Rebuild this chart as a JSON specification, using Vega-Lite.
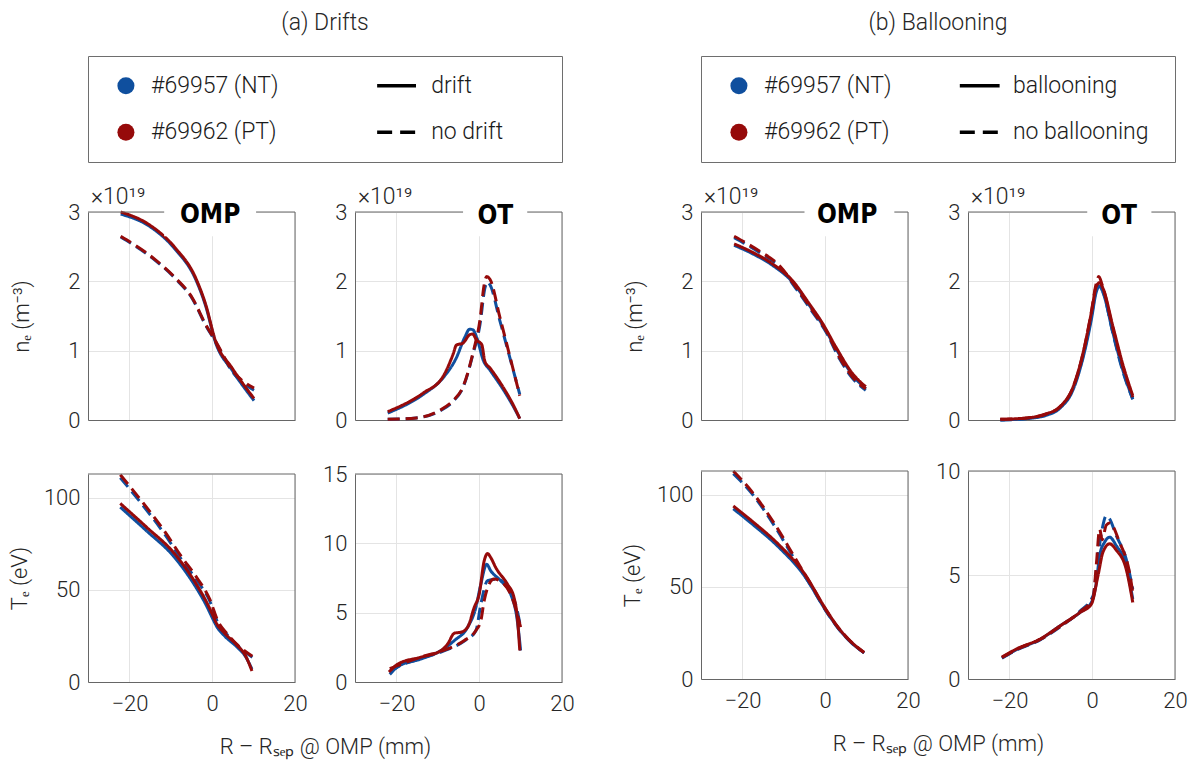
{
  "$schema": "https://vega.github.io/schema/vega-lite/v6.json",
  "background": "white",
  "padding": {"left": 8, "top": 11, "right": 5, "bottom": 5},
  "config": {
    "font": "Roboto",
    "view": {"stroke": null},
    "axis": {
      "labelFont": "Roboto", "labelFontSize": 22, "labelFontWeight": 300, "labelColor": "#262626",
      "titleFont": "Roboto", "titleFontSize": 22, "titleFontWeight": 300, "titleColor": "#262626",
      "grid": true, "gridColor": "#e4e4e4", "gridWidth": 1,
      "domainColor": "#666666", "domainWidth": 1, "ticks": false,
      "labelFlush": false, "labelPadding": 8, "labelOverlap": false, "format": "d"
    },
    "axisX": {"labelPadding": 11},
    "title": {"font": "Roboto", "fontSize": 23, "fontWeight": 300, "color": "#262626"}
  },
  "datasets": {
    "shots": [{"shot": "#69957 (NT)"}, {"shot": "#69962 (PT)"}],
    "cases_a": [{"case": "drift"}, {"case": "no drift"}],
    "cases_b": [{"case": "ballooning"}, {"case": "no ballooning"}],
    "a_ne_omp": [
      {"shot":"#69957 (NT)","case":"drift","R":-22.1,"v":2.97},{"shot":"#69957 (NT)","case":"drift","R":-15.3,"v":2.8},{"shot":"#69957 (NT)","case":"drift","R":-8.9,"v":2.46},{"shot":"#69957 (NT)","case":"drift","R":-4,"v":2.03},{"shot":"#69957 (NT)","case":"drift","R":-1.6,"v":1.65},{"shot":"#69957 (NT)","case":"drift","R":0.8,"v":1.12},{"shot":"#69957 (NT)","case":"drift","R":4.8,"v":0.72},{"shot":"#69957 (NT)","case":"drift","R":10.1,"v":0.28},
      {"shot":"#69957 (NT)","case":"no drift","R":-22.1,"v":2.64},{"shot":"#69957 (NT)","case":"no drift","R":-13.7,"v":2.3},{"shot":"#69957 (NT)","case":"no drift","R":-8.9,"v":2.04},{"shot":"#69957 (NT)","case":"no drift","R":-4.8,"v":1.75},{"shot":"#69957 (NT)","case":"no drift","R":-1.6,"v":1.37},{"shot":"#69957 (NT)","case":"no drift","R":0.8,"v":1.13},{"shot":"#69957 (NT)","case":"no drift","R":4.8,"v":0.7},{"shot":"#69957 (NT)","case":"no drift","R":10.1,"v":0.43},
      {"shot":"#69962 (PT)","case":"drift","R":-22.1,"v":3.0},{"shot":"#69962 (PT)","case":"drift","R":-15.3,"v":2.82},{"shot":"#69962 (PT)","case":"drift","R":-8.9,"v":2.48},{"shot":"#69962 (PT)","case":"drift","R":-4,"v":2.05},{"shot":"#69962 (PT)","case":"drift","R":-1.6,"v":1.67},{"shot":"#69962 (PT)","case":"drift","R":0.8,"v":1.14},{"shot":"#69962 (PT)","case":"drift","R":4.8,"v":0.75},{"shot":"#69962 (PT)","case":"drift","R":10.1,"v":0.31},
      {"shot":"#69962 (PT)","case":"no drift","R":-22.1,"v":2.65},{"shot":"#69962 (PT)","case":"no drift","R":-13.7,"v":2.31},{"shot":"#69962 (PT)","case":"no drift","R":-8.9,"v":2.05},{"shot":"#69962 (PT)","case":"no drift","R":-4.8,"v":1.76},{"shot":"#69962 (PT)","case":"no drift","R":-1.6,"v":1.38},{"shot":"#69962 (PT)","case":"no drift","R":0.8,"v":1.14},{"shot":"#69962 (PT)","case":"no drift","R":4.8,"v":0.72},{"shot":"#69962 (PT)","case":"no drift","R":10.1,"v":0.46}
    ],
    "a_ne_ot": [
      {"shot":"#69957 (NT)","case":"drift","R":-22.1,"v":0.1},{"shot":"#69957 (NT)","case":"drift","R":-13.5,"v":0.37},{"shot":"#69957 (NT)","case":"drift","R":-8.7,"v":0.61},{"shot":"#69957 (NT)","case":"drift","R":-5.5,"v":0.9},{"shot":"#69957 (NT)","case":"drift","R":-3.5,"v":1.19},{"shot":"#69957 (NT)","case":"drift","R":-2.3,"v":1.31},{"shot":"#69957 (NT)","case":"drift","R":-1.5,"v":1.3},{"shot":"#69957 (NT)","case":"drift","R":-0.6,"v":1.19},{"shot":"#69957 (NT)","case":"drift","R":1,"v":0.86},{"shot":"#69957 (NT)","case":"drift","R":2.6,"v":0.72},{"shot":"#69957 (NT)","case":"drift","R":5.8,"v":0.44},{"shot":"#69957 (NT)","case":"drift","R":8.2,"v":0.2},{"shot":"#69957 (NT)","case":"drift","R":9.8,"v":0.02},
      {"shot":"#69957 (NT)","case":"no drift","R":-22.1,"v":0.01},{"shot":"#69957 (NT)","case":"no drift","R":-15.2,"v":0.03},{"shot":"#69957 (NT)","case":"no drift","R":-9.5,"v":0.13},{"shot":"#69957 (NT)","case":"no drift","R":-6.3,"v":0.27},{"shot":"#69957 (NT)","case":"no drift","R":-3.9,"v":0.47},{"shot":"#69957 (NT)","case":"no drift","R":-1.5,"v":0.95},{"shot":"#69957 (NT)","case":"no drift","R":0.2,"v":1.38},{"shot":"#69957 (NT)","case":"no drift","R":1.4,"v":1.91},{"shot":"#69957 (NT)","case":"no drift","R":2,"v":1.99},{"shot":"#69957 (NT)","case":"no drift","R":2.6,"v":1.95},{"shot":"#69957 (NT)","case":"no drift","R":5,"v":1.43},{"shot":"#69957 (NT)","case":"no drift","R":7.4,"v":0.9},{"shot":"#69957 (NT)","case":"no drift","R":9.8,"v":0.37},
      {"shot":"#69962 (PT)","case":"drift","R":-22.1,"v":0.12},{"shot":"#69962 (PT)","case":"drift","R":-13.5,"v":0.39},{"shot":"#69962 (PT)","case":"drift","R":-8.7,"v":0.63},{"shot":"#69962 (PT)","case":"drift","R":-6.3,"v":0.95},{"shot":"#69962 (PT)","case":"drift","R":-5.5,"v":1.08},{"shot":"#69962 (PT)","case":"drift","R":-3.9,"v":1.11},{"shot":"#69962 (PT)","case":"drift","R":-2.3,"v":1.23},{"shot":"#69962 (PT)","case":"drift","R":-1.6,"v":1.24},{"shot":"#69962 (PT)","case":"drift","R":-0.6,"v":1.15},{"shot":"#69962 (PT)","case":"drift","R":0.6,"v":1.09},{"shot":"#69962 (PT)","case":"drift","R":1.4,"v":0.84},{"shot":"#69962 (PT)","case":"drift","R":2.6,"v":0.75},{"shot":"#69962 (PT)","case":"drift","R":5.8,"v":0.47},{"shot":"#69962 (PT)","case":"drift","R":8.2,"v":0.22},{"shot":"#69962 (PT)","case":"drift","R":9.8,"v":0.02},
      {"shot":"#69962 (PT)","case":"no drift","R":-22.1,"v":0.01},{"shot":"#69962 (PT)","case":"no drift","R":-15.2,"v":0.03},{"shot":"#69962 (PT)","case":"no drift","R":-9.5,"v":0.14},{"shot":"#69962 (PT)","case":"no drift","R":-6.3,"v":0.28},{"shot":"#69962 (PT)","case":"no drift","R":-3.9,"v":0.48},{"shot":"#69962 (PT)","case":"no drift","R":-1.5,"v":0.97},{"shot":"#69962 (PT)","case":"no drift","R":0.2,"v":1.45},{"shot":"#69962 (PT)","case":"no drift","R":1.2,"v":1.95},{"shot":"#69962 (PT)","case":"no drift","R":1.8,"v":2.07},{"shot":"#69962 (PT)","case":"no drift","R":2.6,"v":2.03},{"shot":"#69962 (PT)","case":"no drift","R":5,"v":1.48},{"shot":"#69962 (PT)","case":"no drift","R":7.4,"v":0.92},{"shot":"#69962 (PT)","case":"no drift","R":9.8,"v":0.35}
    ],
    "a_te_omp": [
      {"shot":"#69957 (NT)","case":"drift","R":-22.2,"v":95},{"shot":"#69957 (NT)","case":"drift","R":-15.8,"v":82},{"shot":"#69957 (NT)","case":"drift","R":-9.4,"v":68.5},{"shot":"#69957 (NT)","case":"drift","R":-3.8,"v":51},{"shot":"#69957 (NT)","case":"drift","R":-1.5,"v":42},{"shot":"#69957 (NT)","case":"drift","R":0,"v":35},{"shot":"#69957 (NT)","case":"drift","R":1,"v":30.5},{"shot":"#69957 (NT)","case":"drift","R":3,"v":25},{"shot":"#69957 (NT)","case":"drift","R":6,"v":19},{"shot":"#69957 (NT)","case":"drift","R":8,"v":14},{"shot":"#69957 (NT)","case":"drift","R":9.6,"v":7},
      {"shot":"#69957 (NT)","case":"no drift","R":-22.2,"v":111},{"shot":"#69957 (NT)","case":"no drift","R":-18,"v":99.5},{"shot":"#69957 (NT)","case":"no drift","R":-11.4,"v":80},{"shot":"#69957 (NT)","case":"no drift","R":-7.4,"v":66.5},{"shot":"#69957 (NT)","case":"no drift","R":-3.8,"v":55.5},{"shot":"#69957 (NT)","case":"no drift","R":-0.6,"v":44},{"shot":"#69957 (NT)","case":"no drift","R":1.4,"v":32},{"shot":"#69957 (NT)","case":"no drift","R":3.5,"v":26},{"shot":"#69957 (NT)","case":"no drift","R":5.7,"v":20.5},{"shot":"#69957 (NT)","case":"no drift","R":9.7,"v":13.5},
      {"shot":"#69962 (PT)","case":"drift","R":-22.2,"v":97},{"shot":"#69962 (PT)","case":"drift","R":-15.8,"v":84},{"shot":"#69962 (PT)","case":"drift","R":-9.4,"v":70.5},{"shot":"#69962 (PT)","case":"drift","R":-3.8,"v":53},{"shot":"#69962 (PT)","case":"drift","R":-1.5,"v":44},{"shot":"#69962 (PT)","case":"drift","R":0,"v":37},{"shot":"#69962 (PT)","case":"drift","R":1,"v":32},{"shot":"#69962 (PT)","case":"drift","R":3,"v":26.5},{"shot":"#69962 (PT)","case":"drift","R":6,"v":20},{"shot":"#69962 (PT)","case":"drift","R":8,"v":14.5},{"shot":"#69962 (PT)","case":"drift","R":9.6,"v":6},
      {"shot":"#69962 (PT)","case":"no drift","R":-22.2,"v":112.6},{"shot":"#69962 (PT)","case":"no drift","R":-18,"v":101},{"shot":"#69962 (PT)","case":"no drift","R":-11.4,"v":81.5},{"shot":"#69962 (PT)","case":"no drift","R":-7.4,"v":68},{"shot":"#69962 (PT)","case":"no drift","R":-3.8,"v":57},{"shot":"#69962 (PT)","case":"no drift","R":-0.6,"v":45},{"shot":"#69962 (PT)","case":"no drift","R":1.4,"v":33},{"shot":"#69962 (PT)","case":"no drift","R":3.5,"v":26.5},{"shot":"#69962 (PT)","case":"no drift","R":5.7,"v":21},{"shot":"#69962 (PT)","case":"no drift","R":9.7,"v":14}
    ],
    "a_te_ot": [
      {"shot":"#69957 (NT)","case":"drift","R":-21.6,"v":0.55},{"shot":"#69957 (NT)","case":"drift","R":-19.6,"v":1.12},{"shot":"#69957 (NT)","case":"drift","R":-14,"v":1.67},{"shot":"#69957 (NT)","case":"drift","R":-9.2,"v":2.27},{"shot":"#69957 (NT)","case":"drift","R":-6,"v":2.99},{"shot":"#69957 (NT)","case":"drift","R":-2.8,"v":3.95},{"shot":"#69957 (NT)","case":"drift","R":-0.8,"v":5.38},{"shot":"#69957 (NT)","case":"drift","R":0.4,"v":7.06},{"shot":"#69957 (NT)","case":"drift","R":1.8,"v":8.49},{"shot":"#69957 (NT)","case":"drift","R":2.8,"v":8.01},{"shot":"#69957 (NT)","case":"drift","R":5.2,"v":7.3},{"shot":"#69957 (NT)","case":"drift","R":7.6,"v":6.34},{"shot":"#69957 (NT)","case":"drift","R":9.2,"v":4.43},{"shot":"#69957 (NT)","case":"drift","R":10,"v":2.27},
      {"shot":"#69957 (NT)","case":"no drift","R":-21.6,"v":0.72},{"shot":"#69957 (NT)","case":"no drift","R":-19.6,"v":1.1},{"shot":"#69957 (NT)","case":"no drift","R":-14,"v":1.7},{"shot":"#69957 (NT)","case":"no drift","R":-7.6,"v":2.35},{"shot":"#69957 (NT)","case":"no drift","R":-3.6,"v":2.95},{"shot":"#69957 (NT)","case":"no drift","R":-0.8,"v":3.7},{"shot":"#69957 (NT)","case":"no drift","R":0.4,"v":5.62},{"shot":"#69957 (NT)","case":"no drift","R":2,"v":7.3},{"shot":"#69957 (NT)","case":"no drift","R":4.4,"v":7.42},{"shot":"#69957 (NT)","case":"no drift","R":6.8,"v":6.82},{"shot":"#69957 (NT)","case":"no drift","R":9.2,"v":5.14},{"shot":"#69957 (NT)","case":"no drift","R":10,"v":3.95},
      {"shot":"#69962 (PT)","case":"drift","R":-21.8,"v":0.72},{"shot":"#69962 (PT)","case":"drift","R":-19.6,"v":1.3},{"shot":"#69962 (PT)","case":"drift","R":-14,"v":1.8},{"shot":"#69962 (PT)","case":"drift","R":-9.2,"v":2.27},{"shot":"#69962 (PT)","case":"drift","R":-7.6,"v":2.75},{"shot":"#69962 (PT)","case":"drift","R":-6,"v":3.52},{"shot":"#69962 (PT)","case":"drift","R":-4.4,"v":3.59},{"shot":"#69962 (PT)","case":"drift","R":-2.8,"v":3.95},{"shot":"#69962 (PT)","case":"drift","R":-1.2,"v":5.38},{"shot":"#69962 (PT)","case":"drift","R":0,"v":6.34},{"shot":"#69962 (PT)","case":"drift","R":1.2,"v":8.73},{"shot":"#69962 (PT)","case":"drift","R":2,"v":9.26},{"shot":"#69962 (PT)","case":"drift","R":2.8,"v":8.97},{"shot":"#69962 (PT)","case":"drift","R":4,"v":8.25},{"shot":"#69962 (PT)","case":"drift","R":6.8,"v":7.06},{"shot":"#69962 (PT)","case":"drift","R":8.4,"v":6.1},{"shot":"#69962 (PT)","case":"drift","R":9.2,"v":4.67},{"shot":"#69962 (PT)","case":"drift","R":9.8,"v":2.27},
      {"shot":"#69962 (PT)","case":"no drift","R":-21.6,"v":0.96},{"shot":"#69962 (PT)","case":"no drift","R":-19.6,"v":1.2},{"shot":"#69962 (PT)","case":"no drift","R":-14,"v":1.8},{"shot":"#69962 (PT)","case":"no drift","R":-7.6,"v":2.39},{"shot":"#69962 (PT)","case":"no drift","R":-3.6,"v":2.99},{"shot":"#69962 (PT)","case":"no drift","R":-0.8,"v":3.71},{"shot":"#69962 (PT)","case":"no drift","R":0.4,"v":4.43},{"shot":"#69962 (PT)","case":"no drift","R":1.2,"v":5.86},{"shot":"#69962 (PT)","case":"no drift","R":2.4,"v":7.06},{"shot":"#69962 (PT)","case":"no drift","R":3.6,"v":7.42},{"shot":"#69962 (PT)","case":"no drift","R":6,"v":7.06},{"shot":"#69962 (PT)","case":"no drift","R":7.6,"v":6.34},{"shot":"#69962 (PT)","case":"no drift","R":9.2,"v":4.9},{"shot":"#69962 (PT)","case":"no drift","R":10,"v":3.95}
    ],
    "b_ne_omp": [
      {"shot":"#69957 (NT)","case":"ballooning","R":-22,"v":2.52},{"shot":"#69957 (NT)","case":"ballooning","R":-17.6,"v":2.4},{"shot":"#69957 (NT)","case":"ballooning","R":-12.7,"v":2.23},{"shot":"#69957 (NT)","case":"ballooning","R":-7.9,"v":1.99},{"shot":"#69957 (NT)","case":"ballooning","R":-3.9,"v":1.66},{"shot":"#69957 (NT)","case":"ballooning","R":-0.6,"v":1.37},{"shot":"#69957 (NT)","case":"ballooning","R":2.6,"v":1.03},{"shot":"#69957 (NT)","case":"ballooning","R":6.6,"v":0.65},{"shot":"#69957 (NT)","case":"ballooning","R":9.8,"v":0.45},
      {"shot":"#69957 (NT)","case":"no ballooning","R":-22,"v":2.63},{"shot":"#69957 (NT)","case":"no ballooning","R":-16,"v":2.42},{"shot":"#69957 (NT)","case":"no ballooning","R":-11.1,"v":2.21},{"shot":"#69957 (NT)","case":"no ballooning","R":-7.1,"v":1.9},{"shot":"#69957 (NT)","case":"no ballooning","R":-3.1,"v":1.56},{"shot":"#69957 (NT)","case":"no ballooning","R":0.2,"v":1.27},{"shot":"#69957 (NT)","case":"no ballooning","R":3.4,"v":0.89},{"shot":"#69957 (NT)","case":"no ballooning","R":6.6,"v":0.6},{"shot":"#69957 (NT)","case":"no ballooning","R":9.8,"v":0.43},
      {"shot":"#69962 (PT)","case":"ballooning","R":-22,"v":2.54},{"shot":"#69962 (PT)","case":"ballooning","R":-17.6,"v":2.42},{"shot":"#69962 (PT)","case":"ballooning","R":-12.7,"v":2.25},{"shot":"#69962 (PT)","case":"ballooning","R":-7.9,"v":2.01},{"shot":"#69962 (PT)","case":"ballooning","R":-3.9,"v":1.68},{"shot":"#69962 (PT)","case":"ballooning","R":-0.6,"v":1.39},{"shot":"#69962 (PT)","case":"ballooning","R":2.6,"v":1.05},{"shot":"#69962 (PT)","case":"ballooning","R":6.6,"v":0.67},{"shot":"#69962 (PT)","case":"ballooning","R":9.8,"v":0.48},
      {"shot":"#69962 (PT)","case":"no ballooning","R":-22,"v":2.65},{"shot":"#69962 (PT)","case":"no ballooning","R":-16,"v":2.44},{"shot":"#69962 (PT)","case":"no ballooning","R":-11.1,"v":2.23},{"shot":"#69962 (PT)","case":"no ballooning","R":-7.1,"v":1.92},{"shot":"#69962 (PT)","case":"no ballooning","R":-3.1,"v":1.58},{"shot":"#69962 (PT)","case":"no ballooning","R":0.2,"v":1.29},{"shot":"#69962 (PT)","case":"no ballooning","R":3.4,"v":0.91},{"shot":"#69962 (PT)","case":"no ballooning","R":6.6,"v":0.62},{"shot":"#69962 (PT)","case":"no ballooning","R":9.8,"v":0.45}
    ],
    "b_ne_ot": [
      {"shot":"#69957 (NT)","case":"ballooning","R":-22.2,"v":0.0},{"shot":"#69957 (NT)","case":"ballooning","R":-15.8,"v":0.02},{"shot":"#69957 (NT)","case":"ballooning","R":-11,"v":0.07},{"shot":"#69957 (NT)","case":"ballooning","R":-7.8,"v":0.17},{"shot":"#69957 (NT)","case":"ballooning","R":-4.6,"v":0.44},{"shot":"#69957 (NT)","case":"ballooning","R":-2.2,"v":0.9},{"shot":"#69957 (NT)","case":"ballooning","R":-0.2,"v":1.45},{"shot":"#69957 (NT)","case":"ballooning","R":1,"v":1.85},{"shot":"#69957 (NT)","case":"ballooning","R":1.8,"v":1.93},{"shot":"#69957 (NT)","case":"ballooning","R":2.6,"v":1.84},{"shot":"#69957 (NT)","case":"ballooning","R":5,"v":1.26},{"shot":"#69957 (NT)","case":"ballooning","R":7.4,"v":0.72},{"shot":"#69957 (NT)","case":"ballooning","R":9.8,"v":0.3},
      {"shot":"#69957 (NT)","case":"no ballooning","R":-22.2,"v":0.0},{"shot":"#69957 (NT)","case":"no ballooning","R":-15.8,"v":0.02},{"shot":"#69957 (NT)","case":"no ballooning","R":-11,"v":0.08},{"shot":"#69957 (NT)","case":"no ballooning","R":-7.8,"v":0.18},{"shot":"#69957 (NT)","case":"no ballooning","R":-4.6,"v":0.46},{"shot":"#69957 (NT)","case":"no ballooning","R":-2.2,"v":0.93},{"shot":"#69957 (NT)","case":"no ballooning","R":-0.2,"v":1.5},{"shot":"#69957 (NT)","case":"no ballooning","R":1,"v":1.88},{"shot":"#69957 (NT)","case":"no ballooning","R":1.8,"v":1.97},{"shot":"#69957 (NT)","case":"no ballooning","R":2.6,"v":1.86},{"shot":"#69957 (NT)","case":"no ballooning","R":5,"v":1.25},{"shot":"#69957 (NT)","case":"no ballooning","R":7.4,"v":0.7},{"shot":"#69957 (NT)","case":"no ballooning","R":9.8,"v":0.3},
      {"shot":"#69962 (PT)","case":"ballooning","R":-22.2,"v":0.01},{"shot":"#69962 (PT)","case":"ballooning","R":-15.8,"v":0.03},{"shot":"#69962 (PT)","case":"ballooning","R":-11,"v":0.09},{"shot":"#69962 (PT)","case":"ballooning","R":-7.8,"v":0.19},{"shot":"#69962 (PT)","case":"ballooning","R":-4.6,"v":0.48},{"shot":"#69962 (PT)","case":"ballooning","R":-2.2,"v":0.97},{"shot":"#69962 (PT)","case":"ballooning","R":-0.2,"v":1.55},{"shot":"#69962 (PT)","case":"ballooning","R":1,"v":1.93},{"shot":"#69962 (PT)","case":"ballooning","R":1.8,"v":1.98},{"shot":"#69962 (PT)","case":"ballooning","R":2.6,"v":1.9},{"shot":"#69962 (PT)","case":"ballooning","R":5,"v":1.35},{"shot":"#69962 (PT)","case":"ballooning","R":7.4,"v":0.8},{"shot":"#69962 (PT)","case":"ballooning","R":9.8,"v":0.35},
      {"shot":"#69962 (PT)","case":"no ballooning","R":-22.2,"v":0.01},{"shot":"#69962 (PT)","case":"no ballooning","R":-15.8,"v":0.03},{"shot":"#69962 (PT)","case":"no ballooning","R":-11,"v":0.09},{"shot":"#69962 (PT)","case":"no ballooning","R":-7.8,"v":0.19},{"shot":"#69962 (PT)","case":"no ballooning","R":-4.6,"v":0.47},{"shot":"#69962 (PT)","case":"no ballooning","R":-2.2,"v":0.96},{"shot":"#69962 (PT)","case":"no ballooning","R":-0.2,"v":1.56},{"shot":"#69962 (PT)","case":"no ballooning","R":0.9,"v":1.95},{"shot":"#69962 (PT)","case":"no ballooning","R":1.6,"v":2.07},{"shot":"#69962 (PT)","case":"no ballooning","R":2.4,"v":1.95},{"shot":"#69962 (PT)","case":"no ballooning","R":5,"v":1.32},{"shot":"#69962 (PT)","case":"no ballooning","R":7.4,"v":0.77},{"shot":"#69962 (PT)","case":"no ballooning","R":9.8,"v":0.33}
    ],
    "b_te_omp": [
      {"shot":"#69957 (NT)","case":"ballooning","R":-22.2,"v":92.5},{"shot":"#69957 (NT)","case":"ballooning","R":-17.8,"v":84.5},{"shot":"#69957 (NT)","case":"ballooning","R":-11.4,"v":72},{"shot":"#69957 (NT)","case":"ballooning","R":-5,"v":56},{"shot":"#69957 (NT)","case":"ballooning","R":-0.2,"v":38.5},{"shot":"#69957 (NT)","case":"ballooning","R":3,"v":28},{"shot":"#69957 (NT)","case":"ballooning","R":6.2,"v":20},{"shot":"#69957 (NT)","case":"ballooning","R":9.4,"v":14.2},
      {"shot":"#69957 (NT)","case":"no ballooning","R":-22.2,"v":111.5},{"shot":"#69957 (NT)","case":"no ballooning","R":-17.8,"v":101},{"shot":"#69957 (NT)","case":"no ballooning","R":-12.2,"v":83},{"shot":"#69957 (NT)","case":"no ballooning","R":-7.4,"v":65},{"shot":"#69957 (NT)","case":"no ballooning","R":-2.6,"v":47.5},{"shot":"#69957 (NT)","case":"no ballooning","R":0.6,"v":35.5},{"shot":"#69957 (NT)","case":"no ballooning","R":3,"v":28},{"shot":"#69957 (NT)","case":"no ballooning","R":6.2,"v":20},{"shot":"#69957 (NT)","case":"no ballooning","R":9.4,"v":14.2},
      {"shot":"#69962 (PT)","case":"ballooning","R":-22.2,"v":94},{"shot":"#69962 (PT)","case":"ballooning","R":-17.8,"v":86},{"shot":"#69962 (PT)","case":"ballooning","R":-11.4,"v":73.4},{"shot":"#69962 (PT)","case":"ballooning","R":-5,"v":57.2},{"shot":"#69962 (PT)","case":"ballooning","R":-0.2,"v":39.2},{"shot":"#69962 (PT)","case":"ballooning","R":3,"v":28.4},{"shot":"#69962 (PT)","case":"ballooning","R":6.2,"v":20.3},{"shot":"#69962 (PT)","case":"ballooning","R":9.4,"v":14.4},
      {"shot":"#69962 (PT)","case":"no ballooning","R":-22.2,"v":113},{"shot":"#69962 (PT)","case":"no ballooning","R":-17.8,"v":102},{"shot":"#69962 (PT)","case":"no ballooning","R":-12.2,"v":84.2},{"shot":"#69962 (PT)","case":"no ballooning","R":-7.4,"v":66.2},{"shot":"#69962 (PT)","case":"no ballooning","R":-2.6,"v":48.2},{"shot":"#69962 (PT)","case":"no ballooning","R":0.6,"v":36},{"shot":"#69962 (PT)","case":"no ballooning","R":3,"v":28.4},{"shot":"#69962 (PT)","case":"no ballooning","R":6.2,"v":20.3},{"shot":"#69962 (PT)","case":"no ballooning","R":9.4,"v":14.4}
    ],
    "b_te_ot": [
      {"shot":"#69957 (NT)","case":"ballooning","R":-21.8,"v":1.02},{"shot":"#69957 (NT)","case":"ballooning","R":-18.2,"v":1.42},{"shot":"#69957 (NT)","case":"ballooning","R":-12.6,"v":1.9},{"shot":"#69957 (NT)","case":"ballooning","R":-7.8,"v":2.55},{"shot":"#69957 (NT)","case":"ballooning","R":-3,"v":3.19},{"shot":"#69957 (NT)","case":"ballooning","R":-0.2,"v":3.68},{"shot":"#69957 (NT)","case":"ballooning","R":1,"v":4.65},{"shot":"#69957 (NT)","case":"ballooning","R":1.8,"v":5.94},{"shot":"#69957 (NT)","case":"ballooning","R":3,"v":6.58},{"shot":"#69957 (NT)","case":"ballooning","R":4.2,"v":6.82},{"shot":"#69957 (NT)","case":"ballooning","R":5.8,"v":6.42},{"shot":"#69957 (NT)","case":"ballooning","R":8.2,"v":5.45},{"shot":"#69957 (NT)","case":"ballooning","R":9.8,"v":3.84},
      {"shot":"#69957 (NT)","case":"no ballooning","R":-21.8,"v":1.0},{"shot":"#69957 (NT)","case":"no ballooning","R":-18.2,"v":1.4},{"shot":"#69957 (NT)","case":"no ballooning","R":-12.6,"v":1.88},{"shot":"#69957 (NT)","case":"no ballooning","R":-7.8,"v":2.5},{"shot":"#69957 (NT)","case":"no ballooning","R":-3,"v":3.25},{"shot":"#69957 (NT)","case":"no ballooning","R":0.2,"v":4.0},{"shot":"#69957 (NT)","case":"no ballooning","R":1.4,"v":5.9},{"shot":"#69957 (NT)","case":"no ballooning","R":2.4,"v":7.2},{"shot":"#69957 (NT)","case":"no ballooning","R":3.4,"v":7.85},{"shot":"#69957 (NT)","case":"no ballooning","R":4.2,"v":7.7},{"shot":"#69957 (NT)","case":"no ballooning","R":5.8,"v":6.9},{"shot":"#69957 (NT)","case":"no ballooning","R":8.2,"v":5.77},{"shot":"#69957 (NT)","case":"no ballooning","R":9.8,"v":4.32},
      {"shot":"#69962 (PT)","case":"ballooning","R":-21.8,"v":1.05},{"shot":"#69962 (PT)","case":"ballooning","R":-18.2,"v":1.45},{"shot":"#69962 (PT)","case":"ballooning","R":-12.6,"v":1.92},{"shot":"#69962 (PT)","case":"ballooning","R":-7.8,"v":2.55},{"shot":"#69962 (PT)","case":"ballooning","R":-3,"v":3.19},{"shot":"#69962 (PT)","case":"ballooning","R":-0.2,"v":3.6},{"shot":"#69962 (PT)","case":"ballooning","R":1.4,"v":4.97},{"shot":"#69962 (PT)","case":"ballooning","R":2.6,"v":6.1},{"shot":"#69962 (PT)","case":"ballooning","R":4.2,"v":6.5},{"shot":"#69962 (PT)","case":"ballooning","R":5.8,"v":6.2},{"shot":"#69962 (PT)","case":"ballooning","R":8.2,"v":5.29},{"shot":"#69962 (PT)","case":"ballooning","R":9.8,"v":3.68},
      {"shot":"#69962 (PT)","case":"no ballooning","R":-21.8,"v":1.03},{"shot":"#69962 (PT)","case":"no ballooning","R":-18.2,"v":1.43},{"shot":"#69962 (PT)","case":"no ballooning","R":-12.6,"v":1.9},{"shot":"#69962 (PT)","case":"no ballooning","R":-7.8,"v":2.52},{"shot":"#69962 (PT)","case":"no ballooning","R":-3,"v":3.22},{"shot":"#69962 (PT)","case":"no ballooning","R":0.2,"v":3.9},{"shot":"#69962 (PT)","case":"no ballooning","R":1,"v":5.5},{"shot":"#69962 (PT)","case":"no ballooning","R":1.8,"v":7.2},{"shot":"#69962 (PT)","case":"no ballooning","R":2.4,"v":6.7},{"shot":"#69962 (PT)","case":"no ballooning","R":3.4,"v":7.4},{"shot":"#69962 (PT)","case":"no ballooning","R":4.2,"v":7.5},{"shot":"#69962 (PT)","case":"no ballooning","R":6.6,"v":6.58},{"shot":"#69962 (PT)","case":"no ballooning","R":9,"v":5.13},{"shot":"#69962 (PT)","case":"no ballooning","R":9.8,"v":4.16}
    ]
  },
  "spacing": 46,
  "hconcat": [
    {
      "spacing": 23,
      "vconcat": [
        {
          "title": {"text": "(a) Drifts", "anchor": "middle", "frame": "group", "offset": 21},
          "width": 474, "height": 106,
          "view": {"stroke": "#6e6e6e", "strokeWidth": 1},
          "resolve": {"scale": {"y": "independent", "strokeDash": "independent"}},
          "layer": [
            {"data": {"name": "shots"}, "mark": {"type": "point", "filled": true, "opacity": 1, "size": 290, "shape": "circle"},
             "encoding": {"x": {"datum": 8, "type": "quantitative", "scale": {"domain": [0, 100]}, "axis": null},
                          "y": {"field": "shot", "type": "nominal", "scale": {"type": "point", "padding": 0.64}, "axis": null},
                          "color": {"field": "shot", "type": "nominal", "scale": {"domain": ["#69957 (NT)", "#69962 (PT)"], "range": ["#0F4F9E", "#960A0A"]}, "legend": null}}},
            {"data": {"name": "shots"}, "mark": {"type": "text", "align": "left", "baseline": "middle", "fontSize": 23, "fontWeight": 300, "color": "#1a1a1a"},
             "encoding": {"x": {"datum": 13.3, "type": "quantitative", "scale": {"domain": [0, 100]}, "axis": null},
                          "y": {"field": "shot", "type": "nominal", "scale": {"type": "point", "padding": 0.64}, "axis": null},
                          "text": {"field": "shot"}}},
            {"data": {"name": "cases_a"}, "mark": {"type": "rule", "strokeWidth": 3.5, "color": "#000000"},
             "encoding": {"x": {"datum": 61, "type": "quantitative", "scale": {"domain": [0, 100]}, "axis": null}, "x2": {"datum": 69.2},
                          "y": {"field": "case", "type": "nominal", "scale": {"type": "point", "padding": 0.64}, "axis": null},
                          "strokeDash": {"field": "case", "type": "nominal", "scale": {"domain": ["drift", "no drift"], "range": [[1, 0], [15, 8]]}, "legend": null}}},
            {"data": {"name": "cases_a"}, "mark": {"type": "text", "align": "left", "baseline": "middle", "fontSize": 23, "fontWeight": 300, "color": "#1a1a1a"},
             "encoding": {"x": {"datum": 72.4, "type": "quantitative", "scale": {"domain": [0, 100]}, "axis": null},
                          "y": {"field": "case", "type": "nominal", "scale": {"type": "point", "padding": 0.64}, "axis": null},
                          "text": {"field": "case"}}}
          ]
        },
        {
          "bounds": "flush",
          "columns": 2,
          "spacing": {"row": 54, "column": 60},
          "resolve": {"scale": {"x": "independent", "y": "independent", "color": "independent", "strokeDash": "independent"}},
          "concat": [
            {
              "width": 207, "height": 208,
              "layer": [
                {"data": {"name": "a_ne_omp"}, "mark": {"type": "line", "strokeWidth": 3, "interpolate": "monotone"},
                 "encoding": {
                   "x": {"field": "R", "type": "quantitative", "scale": {"domain": [-30, 20], "nice": false, "zero": false}, "axis": {"values": [-20, 0, 20], "labels": false, "title": null}},
                   "y": {"field": "v", "type": "quantitative", "scale": {"domain": [0, 3], "nice": false}, "axis": {"values": [0, 1, 2, 3], "title": "nₑ (m⁻³)", "titlePadding": 34}},
                   "color": {"field": "shot", "type": "nominal", "scale": {"domain": ["#69957 (NT)", "#69962 (PT)"], "range": ["#0F4F9E", "#960A0A"]}, "legend": null},
                   "strokeDash": {"field": "case", "type": "nominal", "scale": {"domain": ["drift", "no drift"], "range": [[1, 0], [12, 6]]}, "legend": null}}},
                {"data": {"values": [{}]}, "mark": {"type": "rule", "color": "#666666", "strokeWidth": 1}, "encoding": {"x": {"datum": -30}, "x2": {"datum": 20}, "y": {"datum": 3}}},
                {"data": {"values": [{}]}, "mark": {"type": "rule", "color": "#666666", "strokeWidth": 1}, "encoding": {"x": {"datum": 20}, "y": {"datum": 0}, "y2": {"datum": 3}}},
                {"data": {"values": [{}]}, "mark": {"type": "rect", "color": "white"}, "encoding": {"x": {"datum": -11.6}, "x2": {"datum": 10.6}, "y": {"datum": 2.65}, "y2": {"datum": 3.2}}},
                {"data": {"values": [{"label": "OMP"}]}, "mark": {"type": "text", "font": "Liberation Sans Narrow, DejaVu Sans Condensed, DejaVu Sans", "fontWeight": "bold", "fontSize": 26, "align": "center", "baseline": "middle", "color": "#000000"}, "encoding": {"x": {"datum": -0.5}, "y": {"datum": 2.95}, "text": {"field": "label"}}},
                {"data": {"values": [{"label": "×10¹⁹"}]}, "mark": {"type": "text", "fontSize": 23, "fontWeight": 300, "align": "left", "baseline": "alphabetic", "dx": 3, "dy": -8, "color": "#262626"}, "encoding": {"x": {"datum": -30}, "y": {"datum": 3}, "text": {"field": "label"}}}
              ]
            },
            {
              "width": 207, "height": 208,
              "layer": [
                {"data": {"name": "a_ne_ot"}, "mark": {"type": "line", "strokeWidth": 3, "interpolate": "monotone"},
                 "encoding": {
                   "x": {"field": "R", "type": "quantitative", "scale": {"domain": [-30, 20], "nice": false, "zero": false}, "axis": {"values": [-20, 0, 20], "labels": false, "title": null}},
                   "y": {"field": "v", "type": "quantitative", "scale": {"domain": [0, 3], "nice": false}, "axis": {"values": [0, 1, 2, 3], "title": null}},
                   "color": {"field": "shot", "type": "nominal", "scale": {"domain": ["#69957 (NT)", "#69962 (PT)"], "range": ["#0F4F9E", "#960A0A"]}, "legend": null},
                   "strokeDash": {"field": "case", "type": "nominal", "scale": {"domain": ["drift", "no drift"], "range": [[1, 0], [12, 6]]}, "legend": null}}},
                {"data": {"values": [{}]}, "mark": {"type": "rule", "color": "#666666", "strokeWidth": 1}, "encoding": {"x": {"datum": -30}, "x2": {"datum": 20}, "y": {"datum": 3}}},
                {"data": {"values": [{}]}, "mark": {"type": "rule", "color": "#666666", "strokeWidth": 1}, "encoding": {"x": {"datum": 20}, "y": {"datum": 0}, "y2": {"datum": 3}}},
                {"data": {"values": [{}]}, "mark": {"type": "rect", "color": "white"}, "encoding": {"x": {"datum": -3.9}, "x2": {"datum": 11.6}, "y": {"datum": 2.65}, "y2": {"datum": 3.2}}},
                {"data": {"values": [{"label": "OT"}]}, "mark": {"type": "text", "font": "Liberation Sans Narrow, DejaVu Sans Condensed, DejaVu Sans", "fontWeight": "bold", "fontSize": 26, "align": "center", "baseline": "middle", "color": "#000000"}, "encoding": {"x": {"datum": 3.9}, "y": {"datum": 2.94}, "text": {"field": "label"}}},
                {"data": {"values": [{"label": "×10¹⁹"}]}, "mark": {"type": "text", "fontSize": 23, "fontWeight": 300, "align": "left", "baseline": "alphabetic", "dx": 3, "dy": -8, "color": "#262626"}, "encoding": {"x": {"datum": -30}, "y": {"datum": 3}, "text": {"field": "label"}}}
              ]
            },
            {
              "width": 207, "height": 208,
              "layer": [
                {"data": {"name": "a_te_omp"}, "mark": {"type": "line", "strokeWidth": 3, "interpolate": "monotone"},
                 "encoding": {
                   "x": {"field": "R", "type": "quantitative", "scale": {"domain": [-30, 20], "nice": false, "zero": false}, "axis": {"values": [-20, 0, 20], "title": "R – Rₛₑₚ @ OMP (mm)", "titleX": 237, "titlePadding": 22}},
                   "y": {"field": "v", "type": "quantitative", "scale": {"domain": [0, 113], "nice": false}, "axis": {"values": [0, 50, 100], "title": "Tₑ (eV)", "titlePadding": 12}},
                   "color": {"field": "shot", "type": "nominal", "scale": {"domain": ["#69957 (NT)", "#69962 (PT)"], "range": ["#0F4F9E", "#960A0A"]}, "legend": null},
                   "strokeDash": {"field": "case", "type": "nominal", "scale": {"domain": ["drift", "no drift"], "range": [[1, 0], [12, 6]]}, "legend": null}}},
                {"data": {"values": [{}]}, "mark": {"type": "rule", "color": "#666666", "strokeWidth": 1}, "encoding": {"x": {"datum": -30}, "x2": {"datum": 20}, "y": {"datum": 113}}},
                {"data": {"values": [{}]}, "mark": {"type": "rule", "color": "#666666", "strokeWidth": 1}, "encoding": {"x": {"datum": 20}, "y": {"datum": 0}, "y2": {"datum": 113}}}
              ]
            },
            {
              "width": 207, "height": 208,
              "layer": [
                {"data": {"name": "a_te_ot"}, "mark": {"type": "line", "strokeWidth": 3, "interpolate": "monotone"},
                 "encoding": {
                   "x": {"field": "R", "type": "quantitative", "scale": {"domain": [-30, 20], "nice": false, "zero": false}, "axis": {"values": [-20, 0, 20], "title": null}},
                   "y": {"field": "v", "type": "quantitative", "scale": {"domain": [0, 15], "nice": false}, "axis": {"values": [0, 5, 10, 15], "title": null}},
                   "color": {"field": "shot", "type": "nominal", "scale": {"domain": ["#69957 (NT)", "#69962 (PT)"], "range": ["#0F4F9E", "#960A0A"]}, "legend": null},
                   "strokeDash": {"field": "case", "type": "nominal", "scale": {"domain": ["drift", "no drift"], "range": [[1, 0], [12, 6]]}, "legend": null}}},
                {"data": {"values": [{}]}, "mark": {"type": "rule", "color": "#666666", "strokeWidth": 1}, "encoding": {"x": {"datum": -30}, "x2": {"datum": 20}, "y": {"datum": 15}}},
                {"data": {"values": [{}]}, "mark": {"type": "rule", "color": "#666666", "strokeWidth": 1}, "encoding": {"x": {"datum": 20}, "y": {"datum": 0}, "y2": {"datum": 15}}}
              ]
            }
          ]
        }
      ]
    },
    {
      "spacing": 23,
      "vconcat": [
        {
          "title": {"text": "(b) Ballooning", "anchor": "middle", "frame": "group", "offset": 21},
          "width": 474, "height": 106,
          "view": {"stroke": "#6e6e6e", "strokeWidth": 1},
          "resolve": {"scale": {"y": "independent", "strokeDash": "independent"}},
          "layer": [
            {"data": {"name": "shots"}, "mark": {"type": "point", "filled": true, "opacity": 1, "size": 290, "shape": "circle"},
             "encoding": {"x": {"datum": 8, "type": "quantitative", "scale": {"domain": [0, 100]}, "axis": null},
                          "y": {"field": "shot", "type": "nominal", "scale": {"type": "point", "padding": 0.64}, "axis": null},
                          "color": {"field": "shot", "type": "nominal", "scale": {"domain": ["#69957 (NT)", "#69962 (PT)"], "range": ["#0F4F9E", "#960A0A"]}, "legend": null}}},
            {"data": {"name": "shots"}, "mark": {"type": "text", "align": "left", "baseline": "middle", "fontSize": 23, "fontWeight": 300, "color": "#1a1a1a"},
             "encoding": {"x": {"datum": 13.3, "type": "quantitative", "scale": {"domain": [0, 100]}, "axis": null},
                          "y": {"field": "shot", "type": "nominal", "scale": {"type": "point", "padding": 0.64}, "axis": null},
                          "text": {"field": "shot"}}},
            {"data": {"name": "cases_b"}, "mark": {"type": "rule", "strokeWidth": 3.5, "color": "#000000"},
             "encoding": {"x": {"datum": 54.6, "type": "quantitative", "scale": {"domain": [0, 100]}, "axis": null}, "x2": {"datum": 63},
                          "y": {"field": "case", "type": "nominal", "scale": {"type": "point", "padding": 0.64}, "axis": null},
                          "strokeDash": {"field": "case", "type": "nominal", "scale": {"domain": ["ballooning", "no ballooning"], "range": [[1, 0], [15, 8]]}, "legend": null}}},
            {"data": {"name": "cases_b"}, "mark": {"type": "text", "align": "left", "baseline": "middle", "fontSize": 23, "fontWeight": 300, "color": "#1a1a1a"},
             "encoding": {"x": {"datum": 65.8, "type": "quantitative", "scale": {"domain": [0, 100]}, "axis": null},
                          "y": {"field": "case", "type": "nominal", "scale": {"type": "point", "padding": 0.64}, "axis": null},
                          "text": {"field": "case"}}}
          ]
        },
        {
          "bounds": "flush",
          "columns": 2,
          "spacing": {"row": 51, "column": 60},
          "resolve": {"scale": {"x": "independent", "y": "independent", "color": "independent", "strokeDash": "independent"}},
          "concat": [
            {
              "width": 207, "height": 208,
              "layer": [
                {"data": {"name": "b_ne_omp"}, "mark": {"type": "line", "strokeWidth": 3, "interpolate": "monotone"},
                 "encoding": {
                   "x": {"field": "R", "type": "quantitative", "scale": {"domain": [-30, 20], "nice": false, "zero": false}, "axis": {"values": [-20, 0, 20], "labels": false, "title": null}},
                   "y": {"field": "v", "type": "quantitative", "scale": {"domain": [0, 3], "nice": false}, "axis": {"values": [0, 1, 2, 3], "title": "nₑ (m⁻³)", "titlePadding": 34}},
                   "color": {"field": "shot", "type": "nominal", "scale": {"domain": ["#69957 (NT)", "#69962 (PT)"], "range": ["#0F4F9E", "#960A0A"]}, "legend": null},
                   "strokeDash": {"field": "case", "type": "nominal", "scale": {"domain": ["ballooning", "no ballooning"], "range": [[1, 0], [12, 6]]}, "legend": null}}},
                {"data": {"values": [{}]}, "mark": {"type": "rule", "color": "#666666", "strokeWidth": 1}, "encoding": {"x": {"datum": -30}, "x2": {"datum": 20}, "y": {"datum": 3}}},
                {"data": {"values": [{}]}, "mark": {"type": "rule", "color": "#666666", "strokeWidth": 1}, "encoding": {"x": {"datum": 20}, "y": {"datum": 0}, "y2": {"datum": 3}}},
                {"data": {"values": [{}]}, "mark": {"type": "rect", "color": "white"}, "encoding": {"x": {"datum": -5}, "x2": {"datum": 16.7}, "y": {"datum": 2.65}, "y2": {"datum": 3.2}}},
                {"data": {"values": [{"label": "OMP"}]}, "mark": {"type": "text", "font": "Liberation Sans Narrow, DejaVu Sans Condensed, DejaVu Sans", "fontWeight": "bold", "fontSize": 26, "align": "center", "baseline": "middle", "color": "#000000"}, "encoding": {"x": {"datum": 5.3}, "y": {"datum": 2.95}, "text": {"field": "label"}}},
                {"data": {"values": [{"label": "×10¹⁹"}]}, "mark": {"type": "text", "fontSize": 23, "fontWeight": 300, "align": "left", "baseline": "alphabetic", "dx": 3, "dy": -8, "color": "#262626"}, "encoding": {"x": {"datum": -30}, "y": {"datum": 3}, "text": {"field": "label"}}}
              ]
            },
            {
              "width": 207, "height": 208,
              "layer": [
                {"data": {"name": "b_ne_ot"}, "mark": {"type": "line", "strokeWidth": 3, "interpolate": "monotone"},
                 "encoding": {
                   "x": {"field": "R", "type": "quantitative", "scale": {"domain": [-30, 20], "nice": false, "zero": false}, "axis": {"values": [-20, 0, 20], "labels": false, "title": null}},
                   "y": {"field": "v", "type": "quantitative", "scale": {"domain": [0, 3], "nice": false}, "axis": {"values": [0, 1, 2, 3], "title": null}},
                   "color": {"field": "shot", "type": "nominal", "scale": {"domain": ["#69957 (NT)", "#69962 (PT)"], "range": ["#0F4F9E", "#960A0A"]}, "legend": null},
                   "strokeDash": {"field": "case", "type": "nominal", "scale": {"domain": ["ballooning", "no ballooning"], "range": [[1, 0], [12, 6]]}, "legend": null}}},
                {"data": {"values": [{}]}, "mark": {"type": "rule", "color": "#666666", "strokeWidth": 1}, "encoding": {"x": {"datum": -30}, "x2": {"datum": 20}, "y": {"datum": 3}}},
                {"data": {"values": [{}]}, "mark": {"type": "rule", "color": "#666666", "strokeWidth": 1}, "encoding": {"x": {"datum": 20}, "y": {"datum": 0}, "y2": {"datum": 3}}},
                {"data": {"values": [{}]}, "mark": {"type": "rect", "color": "white"}, "encoding": {"x": {"datum": -1.2}, "x2": {"datum": 14.3}, "y": {"datum": 2.65}, "y2": {"datum": 3.2}}},
                {"data": {"values": [{"label": "OT"}]}, "mark": {"type": "text", "font": "Liberation Sans Narrow, DejaVu Sans Condensed, DejaVu Sans", "fontWeight": "bold", "fontSize": 26, "align": "center", "baseline": "middle", "color": "#000000"}, "encoding": {"x": {"datum": 6.5}, "y": {"datum": 2.94}, "text": {"field": "label"}}},
                {"data": {"values": [{"label": "×10¹⁹"}]}, "mark": {"type": "text", "fontSize": 23, "fontWeight": 300, "align": "left", "baseline": "alphabetic", "dx": 3, "dy": -8, "color": "#262626"}, "encoding": {"x": {"datum": -30}, "y": {"datum": 3}, "text": {"field": "label"}}}
              ]
            },
            {
              "width": 207, "height": 208,
              "layer": [
                {"data": {"name": "b_te_omp"}, "mark": {"type": "line", "strokeWidth": 3, "interpolate": "monotone"},
                 "encoding": {
                   "x": {"field": "R", "type": "quantitative", "scale": {"domain": [-30, 20], "nice": false, "zero": false}, "axis": {"values": [-20, 0, 20], "title": "R – Rₛₑₚ @ OMP (mm)", "titleX": 237, "titlePadding": 22}},
                   "y": {"field": "v", "type": "quantitative", "scale": {"domain": [0, 113], "nice": false}, "axis": {"values": [0, 50, 100], "title": "Tₑ (eV)", "titlePadding": 12}},
                   "color": {"field": "shot", "type": "nominal", "scale": {"domain": ["#69957 (NT)", "#69962 (PT)"], "range": ["#0F4F9E", "#960A0A"]}, "legend": null},
                   "strokeDash": {"field": "case", "type": "nominal", "scale": {"domain": ["ballooning", "no ballooning"], "range": [[1, 0], [12, 6]]}, "legend": null}}},
                {"data": {"values": [{}]}, "mark": {"type": "rule", "color": "#666666", "strokeWidth": 1}, "encoding": {"x": {"datum": -30}, "x2": {"datum": 20}, "y": {"datum": 113}}},
                {"data": {"values": [{}]}, "mark": {"type": "rule", "color": "#666666", "strokeWidth": 1}, "encoding": {"x": {"datum": 20}, "y": {"datum": 0}, "y2": {"datum": 113}}}
              ]
            },
            {
              "width": 207, "height": 208,
              "layer": [
                {"data": {"name": "b_te_ot"}, "mark": {"type": "line", "strokeWidth": 3, "interpolate": "monotone"},
                 "encoding": {
                   "x": {"field": "R", "type": "quantitative", "scale": {"domain": [-30, 20], "nice": false, "zero": false}, "axis": {"values": [-20, 0, 20], "title": null}},
                   "y": {"field": "v", "type": "quantitative", "scale": {"domain": [0, 10], "nice": false}, "axis": {"values": [0, 5, 10], "title": null}},
                   "color": {"field": "shot", "type": "nominal", "scale": {"domain": ["#69957 (NT)", "#69962 (PT)"], "range": ["#0F4F9E", "#960A0A"]}, "legend": null},
                   "strokeDash": {"field": "case", "type": "nominal", "scale": {"domain": ["ballooning", "no ballooning"], "range": [[1, 0], [12, 6]]}, "legend": null}}},
                {"data": {"values": [{}]}, "mark": {"type": "rule", "color": "#666666", "strokeWidth": 1}, "encoding": {"x": {"datum": -30}, "x2": {"datum": 20}, "y": {"datum": 10}}},
                {"data": {"values": [{}]}, "mark": {"type": "rule", "color": "#666666", "strokeWidth": 1}, "encoding": {"x": {"datum": 20}, "y": {"datum": 0}, "y2": {"datum": 10}}}
              ]
            }
          ]
        }
      ]
    }
  ]
}
